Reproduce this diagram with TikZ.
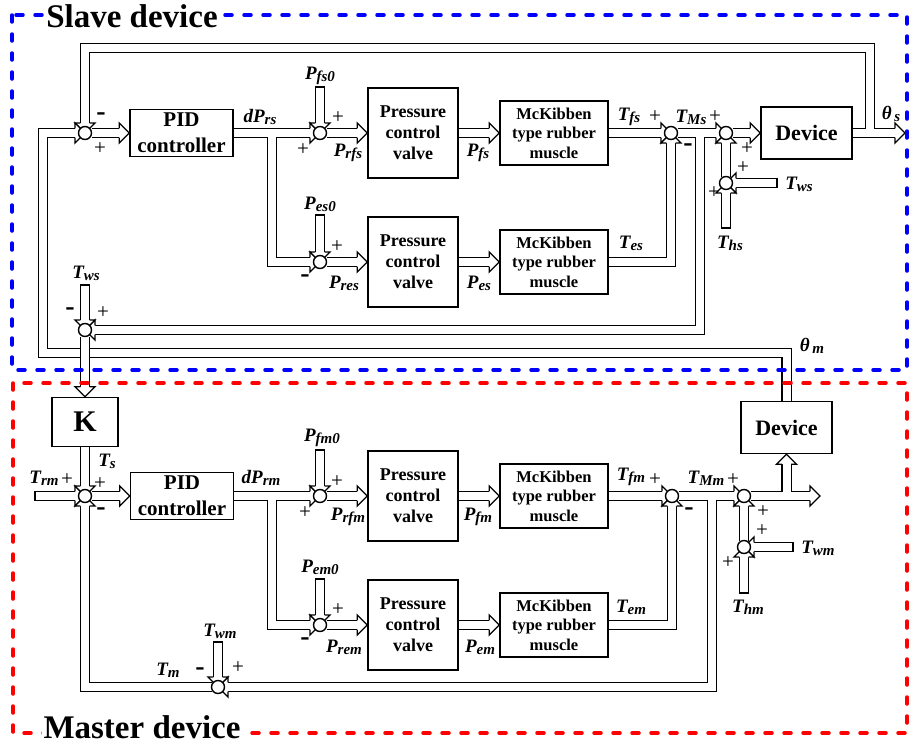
\documentclass[tikz,border=0pt]{standalone}
\usepackage{fontspec}
\setmainfont{Liberation Serif}
\pgfdeclarelayer{fg}
\pgfsetlayers{main,fg}
\tikzset{
  every node/.style={font=\bfseries\fontsize{19}{22}\selectfont},
  block/.style={draw=black, line width=1.4pt, align=center, inner sep=0pt, fill=white},
  pid/.style={block, minimum width=103pt, minimum height=47pt,
    font=\bfseries\fontsize{21}{26}\selectfont},
  valve/.style={block, minimum width=90pt, minimum height=90pt,
    font=\bfseries\fontsize{18}{21}\selectfont},
  muscle/.style={block, minimum width=108pt, minimum height=64pt,
    font=\bfseries\fontsize{16.5}{19.5}\selectfont},
  device/.style={block, minimum width=91pt, minimum height=52pt,
    font=\bfseries\fontsize{22}{26}\selectfont},
  sum/.style={circle, draw=black, line width=1.4pt, fill=white,
    minimum size=13pt, inner sep=0pt, outer sep=0pt},
  fat/.style={draw=black, double=white, double distance=8pt, line width=1.3pt, shorten >=10pt},
  plus/.style={inner sep=0pt, font=\fontsize{21}{21}\selectfont},
  minus/.style={inner sep=0pt, font=\bfseries\fontsize{28}{28}\selectfont},
  zone/.style={line width=3.5pt, dash pattern=on 7pt off 12pt, line cap=round},
  title/.style={fill=white, inner sep=2pt, font=\bfseries\fontsize{33}{36}\selectfont},
  pics/tip/.style={code={
    \draw[line width=1.3pt, fill=white] (-10pt,4.65pt) -- (-10pt,10pt) -- (0pt,0pt)
      -- (-10pt,-10pt) -- (-10pt,-4.65pt);}},
  pics/cap/.style={code={
    \draw[line width=1.3pt, line cap=rect] (0pt,-4.65pt) -- (0pt,4.65pt);}}
}
\newcommand{\sg}[2]{\textit{#1\raisebox{-2pt}{\fontsize{15}{15}\selectfont #2}}}

\begin{document}
\begin{tikzpicture}[x=1pt,y=-1pt]
  \useasboundingbox (0,0) rectangle (910,747);

  % Summing points, kept above the arrow heads.
  \begin{pgfonlayer}{fg}
    \node[sum] (sS1) at (85,133) {};
    \node[sum] (sS2) at (320,133) {};
    \node[sum] (sS3) at (671,133) {};
    \node[sum] (sS4) at (726,133) {};
    \node[sum] (sS5) at (85,330) {};
    \node[sum] (sS6) at (320,262) {};
    \node[sum] (sS7) at (726,183) {};
    \node[sum] (sM1) at (85,496) {};
    \node[sum] (sM2) at (320,496) {};
    \node[sum] (sM3) at (672,496) {};
    \node[sum] (sM4) at (744,496) {};
    \node[sum] (sM5) at (218,687) {};
    \node[sum] (sM6) at (320,625) {};
    \node[sum] (sM7) at (744,547) {};
  \end{pgfonlayer}

  % Slave blocks.
  \node[pid] (pidS) at (181.5,133) {PID\\controller};
  \node[valve] (valveS1) at (413,133) {Pressure\\control\\valve};
  \node[muscle] (muscleS1) at (554,133) {McKibben\\type rubber\\muscle};
  \node[device] (devS) at (806.5,133) {Device};
  \node[valve] (valveS2) at (413,262) {Pressure\\control\\valve};
  \node[muscle] (muscleS2) at (554,262) {McKibben\\type rubber\\muscle};
  \node[block, minimum width=66pt, minimum height=49pt,
    font=\bfseries\fontsize{30}{30}\selectfont] (gainK) at (85,422) {K};

  % Master blocks.
  \node[pid] (pidM) at (182,496) {PID\\controller};
  \node[valve] (valveM1) at (413,496) {Pressure\\control\\valve};
  \node[muscle] (muscleM1) at (554,496) {McKibben\\type rubber\\muscle};
  \node[device] (devM) at (786.5,427.5) {Device};
  \node[valve] (valveM2) at (413,625) {Pressure\\control\\valve};
  \node[muscle] (muscleM2) at (554,625) {McKibben\\type rubber\\muscle};

  % Branch points, free ends and loop corners.
  \coordinate (thetaS) at (905,133);
  \coordinate (brDPs) at (272,137);
  \coordinate (brTMs) at (700,137);
  \coordinate (brOutS) at (870,129);
  \coordinate (loopTop) at (85,48);
  \coordinate (loopLeft) at (43,353);
  \coordinate (inPfs0) at (320,87);
  \coordinate (inPes0) at (320,215);
  \coordinate (inTwsL) at (85,285);
  \coordinate (inTwsR) at (777,183);
  \coordinate (inThs) at (726,228);
  \coordinate (outM) at (820,496);
  \coordinate (brDPm) at (272,500);
  \coordinate (brTMm) at (712,500);
  \coordinate (brOutM) at (786.5,492);
  \coordinate (inTrm) at (35,496);
  \coordinate (inPfm0) at (320,450);
  \coordinate (inPem0) at (320,579);
  \coordinate (inTwmL) at (218,642);
  \coordinate (inTwmR) at (793,547);
  \coordinate (inThm) at (744,593);

  % Slave loop.
  \draw[fat] (sS1.east) -- (pidS.west); \pic at (pidS.west) {tip};
  \draw[fat] (pidS.east) -- (sS2.center); \pic at (sS2.center) {tip};
  \draw[fat] (brDPs) |- (sS6.center); \pic at (sS6.center) {tip};
  \draw[fat] (inPfs0) -- (sS2.center); \pic[rotate=-90] at (sS2.center) {tip};
  \pic[rotate=90] at (inPfs0) {cap};
  \draw[fat] (sS2.east) -- (valveS1.west); \pic at (valveS1.west) {tip};
  \draw[fat] (valveS1.east) -- (muscleS1.west); \pic at (muscleS1.west) {tip};
  \draw[fat] (muscleS1.east) -- (sS3.center); \pic at (sS3.center) {tip};
  \draw[fat] (sS3.east) -- (sS4.center); \pic at (sS4.center) {tip};
  \draw[fat] (brTMs) |- (sS5.center); \pic[rotate=180] at (sS5.center) {tip};
  \draw[fat] (sS4.east) -- (devS.west); \pic at (devS.west) {tip};
  \draw[fat] (devS.east) -- (thetaS); \pic at (thetaS) {tip};
  \draw[fat] (brOutS) |- (loopTop) -- (sS1.center); \pic[rotate=-90] at (sS1.center) {tip};
  \draw[fat] (inPes0) -- (sS6.center); \pic[rotate=-90] at (sS6.center) {tip};
  \pic[rotate=90] at (inPes0) {cap};
  \draw[fat] (sS6.east) -- (valveS2.west); \pic at (valveS2.west) {tip};
  \draw[fat] (valveS2.east) -- (muscleS2.west); \pic at (muscleS2.west) {tip};
  \draw[fat] (muscleS2.east) -| (sS3.center); \pic[rotate=90] at (sS3.center) {tip};
  \draw[fat] (sS7.north) -- (sS4.center); \pic[rotate=90] at (sS4.center) {tip};
  \draw[fat] (inTwsR) -- (sS7.center); \pic[rotate=180] at (sS7.center) {tip};
  \pic at (inTwsR) {cap};
  \draw[fat] (inThs) -- (sS7.center); \pic[rotate=90] at (sS7.center) {tip};
  \pic[rotate=90] at (inThs) {cap};
  \draw[fat] (inTwsL) -- (sS5.center); \pic[rotate=-90] at (sS5.center) {tip};
  \pic[rotate=90] at (inTwsL) {cap};

  % Master angle fed back to the slave, then the coupling gain.
  \draw[fat] (devM.north) |- (loopLeft) |- (sS1.center); \pic at (sS1.center) {tip};
  \draw[fat] (sS5.south) -- (gainK.north); \pic[rotate=-90] at (gainK.north) {tip};

  % Master loop.
  \draw[fat] (inTrm) -- (sM1.center); \pic at (sM1.center) {tip};
  \pic at (inTrm) {cap};
  \draw[fat] (gainK.south) -- (sM1.center); \pic[rotate=-90] at (sM1.center) {tip};
  \draw[fat] (sM5.west) -| (sM1.center); \pic[rotate=90] at (sM1.center) {tip};
  \draw[fat] (sM1.east) -- (pidM.west); \pic at (pidM.west) {tip};
  \draw[fat] (pidM.east) -- (sM2.center); \pic at (sM2.center) {tip};
  \draw[fat] (brDPm) |- (sM6.center); \pic at (sM6.center) {tip};
  \draw[fat] (inPfm0) -- (sM2.center); \pic[rotate=-90] at (sM2.center) {tip};
  \pic[rotate=90] at (inPfm0) {cap};
  \draw[fat] (sM2.east) -- (valveM1.west); \pic at (valveM1.west) {tip};
  \draw[fat] (valveM1.east) -- (muscleM1.west); \pic at (muscleM1.west) {tip};
  \draw[fat] (muscleM1.east) -- (sM3.center); \pic at (sM3.center) {tip};
  \draw[fat] (sM3.east) -- (sM4.center); \pic at (sM4.center) {tip};
  \draw[fat] (brTMm) |- (sM5.center); \pic[rotate=180] at (sM5.center) {tip};
  \draw[fat] (sM4.east) -- (outM); \pic at (outM) {tip};
  \draw[fat] (brOutM) -- (devM.south); \pic[rotate=90] at (devM.south) {tip};
  \draw[fat] (inPem0) -- (sM6.center); \pic[rotate=-90] at (sM6.center) {tip};
  \pic[rotate=90] at (inPem0) {cap};
  \draw[fat] (sM6.east) -- (valveM2.west); \pic at (valveM2.west) {tip};
  \draw[fat] (valveM2.east) -- (muscleM2.west); \pic at (muscleM2.west) {tip};
  \draw[fat] (muscleM2.east) -| (sM3.center); \pic[rotate=90] at (sM3.center) {tip};
  \draw[fat] (sM7.north) -- (sM4.center); \pic[rotate=90] at (sM4.center) {tip};
  \draw[fat] (inTwmR) -- (sM7.center); \pic[rotate=180] at (sM7.center) {tip};
  \pic at (inTwmR) {cap};
  \draw[fat] (inThm) -- (sM7.center); \pic[rotate=90] at (sM7.center) {tip};
  \pic[rotate=90] at (inThm) {cap};
  \draw[fat] (inTwmL) -- (sM5.center); \pic[rotate=-90] at (sM5.center) {tip};
  \pic[rotate=90] at (inTwmL) {cap};

  % Signal names, slave side.
  \node (lDPrs) at (260,117) {\sg{dP}{rs}};
  \node (lPfs0) at (320,76) {\sg{P}{fs0}};
  \node (lPrfs) at (348,153) {\sg{P}{rfs}};
  \node (lPfs) at (478,153) {\sg{P}{fs}};
  \node (lTfs) at (629,117) {\sg{T}{fs}};
  \node (lTMs) at (691,117) {\sg{T}{Ms}};
  \node (lThetaS) at (891,114) {\sg{θ}{\,s}};
  \node (lTwsR) at (799,184) {\sg{T}{ws}};
  \node (lThs) at (730,243) {\sg{T}{hs}};
  \node (lPes0) at (320,204) {\sg{P}{es0}};
  \node (lPres) at (344,283) {\sg{P}{res}};
  \node (lPes) at (479,283) {\sg{P}{es}};
  \node (lTes) at (631,243) {\sg{T}{es}};
  \node (lTwsL) at (86,273) {\sg{T}{ws}};
  \node (lThetaM) at (812,346) {\sg{θ}{\,m}};

  % Signal names, master side.
  \node (lTrm) at (44,478) {\sg{T}{rm}};
  \node (lTs) at (107,461) {\sg{T}{s}};
  \node (lDPrm) at (261,478) {\sg{dP}{rm}};
  \node (lPfm0) at (322,438) {\sg{P}{fm0}};
  \node (lPrfm) at (348,517) {\sg{P}{rfm}};
  \node (lPfm) at (478,517) {\sg{P}{fm}};
  \node (lTfm) at (631,477) {\sg{T}{fm}};
  \node (lTMm) at (706,478) {\sg{T}{Mm}};
  \node (lTwmR) at (818,548) {\sg{T}{wm}};
  \node (lThm) at (748,607) {\sg{T}{hm}};
  \node (lPem0) at (320,567) {\sg{P}{em0}};
  \node (lPrem) at (344,647) {\sg{P}{rem}};
  \node (lPem) at (480,647) {\sg{P}{em}};
  \node (lTem) at (631,607) {\sg{T}{em}};
  \node (lTwmL) at (220,631) {\sg{T}{wm}};
  \node (lTm) at (168,670) {\sg{T}{m}};

  % Signs at the summing points.
  \node[minus] (gS1a) at (101,117) {-};
  \node[plus] (gS1b) at (100,149) {+};
  \node[plus] (gS2a) at (338,118) {+};
  \node[plus] (gS2b) at (303,150) {+};
  \node[plus] (gS6a) at (337,247) {+};
  \node[minus] (gS6b) at (305,279) {-};
  \node[plus] (gS3a) at (655,117) {+};
  \node[minus] (gS3b) at (688,148) {-};
  \node[plus] (gS4a) at (715,117) {+};
  \node[plus] (gS4b) at (747,149) {+};
  \node[plus] (gS7a) at (743,168) {+};
  \node[plus] (gS7b) at (714,193) {+};
  \node[minus] (gS5a) at (70,312) {-};
  \node[plus] (gS5b) at (103,313) {+};
  \node[plus] (gM1a) at (67,480) {+};
  \node[plus] (gM1b) at (100,484) {+};
  \node[minus] (gM1c) at (101,512) {-};
  \node[plus] (gM2a) at (337,482) {+};
  \node[plus] (gM2b) at (305,513) {+};
  \node[plus] (gM6a) at (338,610) {+};
  \node[minus] (gM6b) at (305,642) {-};
  \node[plus] (gM3a) at (655,480) {+};
  \node[minus] (gM3b) at (689,512) {-};
  \node[plus] (gM4a) at (733,480) {+};
  \node[plus] (gM4b) at (763,512) {+};
  \node[plus] (gM7a) at (762,531) {+};
  \node[plus] (gM7b) at (728,563) {+};
  \node[minus] (gM5a) at (200,672) {-};
  \node[plus] (gM5b) at (238,668) {+};

  % Device boundaries.
  \draw[zone, blue] (12,15) rectangle (907,370);
  \draw[zone, red] (13,383) rectangle (907,733);
  \node[title] (slaveT) at (132,16) {Slave device};
  \node[title] (masterT) at (142,727) {Master device};
\end{tikzpicture}
\end{document}
